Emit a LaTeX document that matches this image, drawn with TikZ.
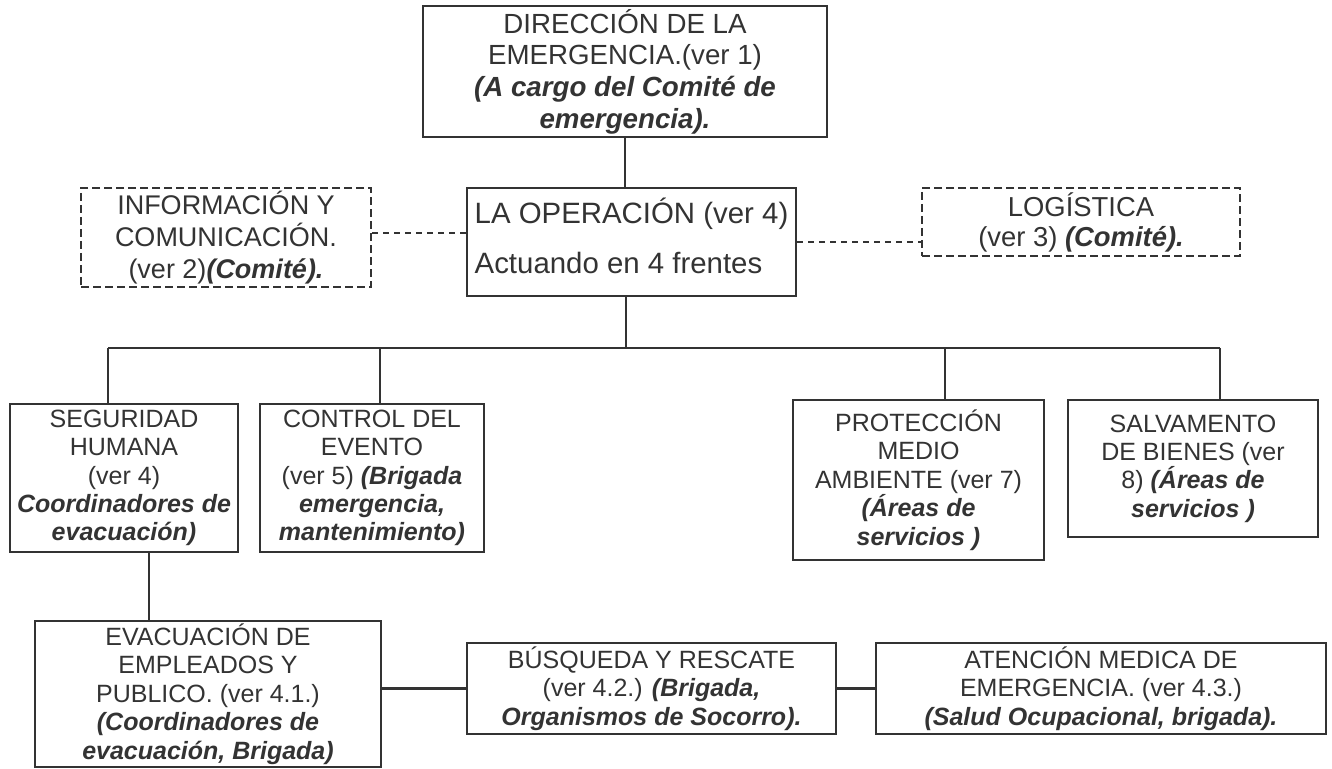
\documentclass[tikz,border=0pt]{standalone}
\usepackage{fontspec}
\setmainfont{Liberation Sans}
\usepackage{xcolor}
\usetikzlibrary{calc}
\colorlet{ink}{black!80}
\tikzstyle{orgbox}=[draw=ink,line width=1.4pt,text=ink,align=center,inner sep=0pt,font=\fontsize{12.5}{14.2}\selectfont]
\tikzstyle{staffbox}=[orgbox,dash pattern=on 4pt off 2pt]
\tikzstyle{link}=[draw=ink,line width=1.2pt]
\tikzstyle{stafflink}=[link,dash pattern=on 3pt off 2.5pt]
\newcommand\cargo[1]{\textbf{\itshape #1}}

\begin{document}
\begin{tikzpicture}[x=0.5pt,y=-0.5pt]
	\useasboundingbox (0,0) rectangle (1332,769);
	
	% TOP
	\node[orgbox,minimum width=202pt,minimum height=65.5pt,font=\fontsize{13.85}{15.8}\selectfont] (dir) at (625,71.5)
	{DIRECCIÓN DE LA\\EMERGENCIA.(ver 1)\\\cargo{(A cargo del Comité de}\\\cargo{emergencia).}};
	\node[orgbox,minimum width=164.5pt,minimum height=54pt,align=left,text depth=6pt,font=\fontsize{14.7}{17.4}\selectfont] (op) at (631.5,242)
	{LA OPERACIÓN (ver 4)\\[7.6pt]Actuando en 4 frentes};
	\node[staffbox,minimum width=145pt,minimum height=49.5pt,font=\fontsize{13.5}{15.8}\selectfont] (info) at (226,237.5)
	{INFORMACIÓN Y\\COMUNICACIÓN.\\(ver 2)\cargo{(Comité).}};
	\node[staffbox,minimum width=159pt,minimum height=34pt,font=\fontsize{13.7}{15}\selectfont] (log) at (1081,222)
	{LOGÍSTICA\\(ver 3) \cargo{(Comité).}};
	
	% FRONTS
	\node[orgbox,minimum width=114pt,minimum height=74pt] (seg) at (124,478)
	{SEGURIDAD\\HUMANA\\(ver 4)\\\cargo{Coordinadores de}\\\cargo{evacuación)}};
	\node[orgbox,minimum width=112pt,minimum height=74pt] (ctrl) at (372,478)
	{CONTROL DEL\\EVENTO\\(ver 5) \cargo{(Brigada}\\\cargo{emergencia,}\\\cargo{mantenimiento)}};
	\node[orgbox,minimum width=125.5pt,minimum height=80pt] (prot) at (918.5,480)
	{PROTECCIÓN\\MEDIO\\AMBIENTE (ver 7)\\\cargo{(Áreas de}\\\cargo{servicios )}};
	\node[orgbox,minimum width=125pt,minimum height=68.5pt] (salv) at (1193,468.5)
	{SALVAMENTO\\DE BIENES (ver\\8) \cargo{(Áreas de}\\\cargo{servicios )}};
	
	% HUMAN SAFETY
	\node[orgbox,minimum width=173pt,minimum height=73pt] (evac) at (208,694)
	{EVACUACIÓN DE\\EMPLEADOS Y\\PUBLICO. (ver 4.1.)\\\cargo{(Coordinadores de}\\\cargo{evacuación, Brigada)}};
	\node[orgbox,minimum width=184.5pt,minimum height=45.5pt] (busq) at (651.5,688.5)
	{BÚSQUEDA Y RESCATE\\(ver 4.2.) \cargo{(Brigada,}\\\cargo{Organismos de Socorro).}};
	\node[orgbox,minimum width=225pt,minimum height=45.5pt] (aten) at (1101,688.5)
	{ATENCIÓN MEDICA DE\\EMERGENCIA. (ver 4.3.)\\\cargo{(Salud Ocupacional, brigada).}};
	
	% LINES
	\coordinate (bus) at (626,348);
	\coordinate (b1) at (108,348);
	\coordinate (b2) at (380,348);
	\coordinate (b3) at (945,348);
	\coordinate (b4) at (1220,348);
	\draw[link] (dir.south) -- (dir.south |- op.north);
	\draw[link] (bus |- op.south) -- (bus);
	\draw[link] (b1) -- (b4);
	\draw[link] (b1) -- (b1 |- seg.north);
	\draw[link] (b2) -- (b2 |- ctrl.north);
	\draw[link] (b3) -- (b3 |- prot.north);
	\draw[link] (b4) -- (b4 |- salv.north);
	\draw[link] ([xshift=12.5pt]seg.south) -- ([xshift=12.5pt]seg.south |- evac.north);
	\draw[link] (busq.west -| evac.east) -- (busq.west);
	\draw[link] (busq.east) -- (aten.west);
	\draw[stafflink] ([yshift=2.25pt]info.east) -- ([yshift=2.25pt]info.east -| op.west);
	\draw[stafflink] (op.east) -- (op.east -| log.west);
	
\end{tikzpicture}
\end{document}
